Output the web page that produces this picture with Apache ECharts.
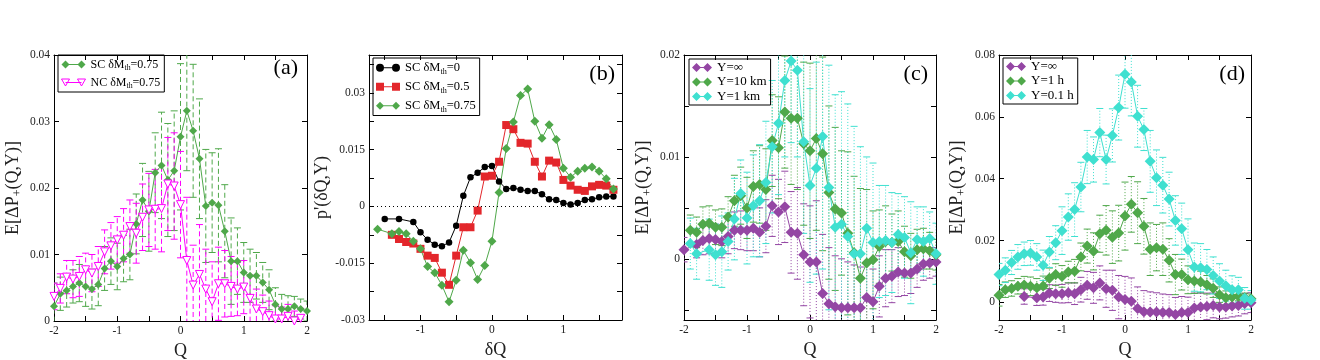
<!DOCTYPE html>
<html>
<head>
<meta charset="utf-8">
<script src="https://cdn.jsdelivr.net/npm/echarts@6/dist/echarts.min.js"></script>
<style>
html,body{margin:0;background:#fff}
#main{width:1320px;height:360px}
</style>
</head>
<body>
<div id="main"></div>
<script>
// ---- data ----
const qA = [-2,-1.9,-1.8,-1.7,-1.6,-1.5,-1.4,-1.3,-1.2,-1.1,-1,-0.9,-0.8,-0.7,-0.6,-0.5,-0.4,-0.3,-0.2,-0.1,0,0.1,0.2,0.3,0.4,0.5,0.6,0.7,0.8,0.9,1,1.1,1.2,1.3,1.4,1.5,1.6,1.7,1.8,1.9,2]

// (a)
const scA = [0.0022,0.0041,0.0046,0.0052,0.0057,0.0052,0.0048,0.0055,0.0079,0.009,0.0082,0.0094,0.0100,0.0146,0.0182,0.0165,0.0223,0.0234,0.0212,0.0226,0.0277,0.0316,0.0286,0.0244,0.0173,0.0178,0.0174,0.0135,0.009,0.009,0.0073,0.0068,0.0068,0.0058,0.0047,0.0025,0.0018,0.0018,0.0022,0.0018,0.0015]
const scAErr = [0.0035,0.0025,0.0025,0.0025,0.0028,0.003,0.003,0.0032,0.0033,0.0035,0.0035,0.0035,0.0038,0.0045,0.0055,0.006,0.006,0.008,0.0085,0.009,0.011,0.009,0.01,0.009,0.0085,0.0075,0.0085,0.007,0.0065,0.005,0.0045,0.004,0.0035,0.003,0.003,0.0025,0.0022,0.002,0.0015,0.0015,0.0015]
const qNC = qA.slice(0, 40)
const ncA = [0.0037,0.0049,0.0066,0.0063,0.0067,0.0077,0.0072,0.0082,0.0104,0.0113,0.0122,0.0129,0.0142,0.0132,0.0156,0.0167,0.0168,0.0169,0.0206,0.0203,0.0175,0.0091,0.0054,0.007,0.0048,0.0029,0.0056,0.0056,0.0052,0.0048,0.0051,0.0034,0.0018,0.0014,0.0008,0.0003,0.0003,0.0007,0,0.0004]
const ncAErr = [0.002,0.0022,0.0025,0.0028,0.003,0.0025,0.0028,0.003,0.0033,0.0035,0.0035,0.004,0.004,0.0045,0.005,0.0055,0.006,0.0065,0.007,0.008,0.008,0.0095,0.006,0.0075,0.006,0.006,0.0055,0.005,0.0045,0.004,0.004,0.0035,0.003,0.0025,0.0022,0.002,0.0018,0.0018,0.0015,0.0015]

// (b)
const qB0 = [-1.5,-1.3,-1.1].concat(qA.slice(10, 38))
const scB0 = [-0.0033,-0.0033,-0.0041,-0.0068,-0.0088,-0.0101,-0.0105,-0.0095,-0.0051,0.0028,0.0077,0.0089,0.0104,0.0107,0.0066,0.0046,0.0049,0.0044,0.0041,0.0041,0.0032,0.0019,0.0017,0.0009,0.0005,0.0009,0.0017,0.0019,0.0024,0.0026,0.0026]
const qB1 = qA.slice(6, 38)
const scB1 = [-0.0075,-0.0086,-0.0094,-0.0098,-0.0112,-0.013,-0.0136,-0.0175,-0.0207,-0.013,-0.0055,-0.0055,-0.0011,0.0079,0.0081,0.0118,0.0215,0.0204,0.0168,0.0166,0.0118,0.0079,0.0121,0.0116,0.007,0.0055,0.0044,0.0041,0.0053,0.0057,0.0055,0.0044]
const qB2 = [-1.6].concat(qA.slice(6, 38))
const scB2 = [-0.006,-0.0072,-0.0066,-0.0072,-0.0092,-0.0112,-0.0159,-0.0175,-0.0208,-0.0252,-0.0195,-0.0116,-0.0149,-0.0193,-0.0156,-0.0092,0.0037,0.0153,0.0223,0.0293,0.031,0.0225,0.018,0.0216,0.0177,0.0101,0.0077,0.0093,0.0101,0.0104,0.0093,0.0073,0.0046]

// (c)
const qC0 = [-2].concat(qA.slice(2))
const infC = [0.0009,0.0014,0.0018,0.002,0.0019,0.0017,0.0022,0.0028,0.0028,0.0028,0.003,0.0026,0.0032,0.0052,0.0046,0.0051,0.0026,0.0025,0.0004,-0.0003,-0.0003,-0.0034,-0.0044,-0.0047,-0.0048,-0.0048,-0.0048,-0.0048,-0.0038,-0.0042,-0.0027,-0.0019,-0.0017,-0.0013,-0.0014,-0.0014,-0.001,-0.0005,-0.0004,-0.0003]
const infCErr = [0.0012,0.0013,0.0014,0.0015,0.0015,0.0016,0.0017,0.0018,0.0019,0.002,0.0022,0.0024,0.0026,0.003,0.0032,0.0035,0.004,0.0045,0.005,0.0055,0.006,0.0058,0.0055,0.005,0.0048,0.0045,0.0042,0.004,0.0035,0.0032,0.003,0.0028,0.0026,0.0024,0.0022,0.002,0.0018,0.0016,0.0015,0.0014]
const qC1 = qA.slice(1)
const km10C = [0.0028,0.0026,0.0034,0.0035,0.0031,0.0031,0.0041,0.0057,0.0062,0.005,0.0071,0.0073,0.0068,0.0116,0.0109,0.0144,0.0138,0.0138,0.0113,0.0106,0.0118,0.0103,0.0065,0.0049,0.0045,0.0025,0.0006,-0.0019,-0.0004,-0.0001,0.0012,0.0017,0.0016,0.0017,0.0007,0.0003,0.0009,0.001,0.0008,0.0004]
const km10CErr = [0.0015,0.0015,0.0017,0.0017,0.0017,0.0018,0.002,0.0025,0.0028,0.003,0.0035,0.0038,0.004,0.0045,0.005,0.0055,0.0065,0.007,0.008,0.0086,0.009,0.0095,0.0085,0.008,0.0061,0.008,0.0075,0.0088,0.0072,0.0048,0.0036,0.0035,0.0028,0.003,0.0025,0.0022,0.002,0.002,0.0018,0.0015]
const qC2 = qA.slice(1, 3).concat(qA.slice(4))
const km1C = [0.0015,0.0005,0.0009,0.0004,0.0007,0.0017,0.0039,0.0064,0.004,0.0052,0.0057,0.0075,0.011,0.0133,0.0175,0.0194,0.0185,0.0115,0.0072,0.0089,0.012,0.007,0.0031,0.0034,0.0022,0.0005,0.0005,0.003,0.0016,0.0017,0.0018,0.0016,0.0024,0.0021,0.0006,0.0019,0.0017,0.002,0.0005]
const km1CErr = [0.0025,0.0025,0.003,0.003,0.0035,0.0028,0.004,0.0033,0.0045,0.005,0.0055,0.006,0.0065,0.007,0.0075,0.008,0.0085,0.009,0.0095,0.0104,0.013,0.012,0.013,0.013,0.013,0.0125,0.0105,0.007,0.0078,0.0055,0.0054,0.0049,0.004,0.004,0.005,0.0032,0.0034,0.0026,0.003]

// (d)
const qD0 = [-1.6].concat(qA.slice(6))
const infD = [0.0019,0.0015,0.0017,0.003,0.0028,0.0028,0.0031,0.0028,0.0041,0.0055,0.0047,0.0063,0.0044,0.0039,0.0017,0.0009,0.0004,-0.002,-0.003,-0.0031,-0.0031,-0.0033,-0.0033,-0.0039,-0.0033,-0.0033,-0.0018,-0.0015,-0.0013,-0.001,-0.0015,-0.0015,-0.0012,-0.001,-0.0004,-0.0001]
const infDErr = [0.0025,0.0025,0.0026,0.0027,0.0028,0.003,0.0032,0.0035,0.004,0.0045,0.005,0.0055,0.006,0.0065,0.007,0.0075,0.0075,0.007,0.0068,0.0065,0.0062,0.006,0.0058,0.0055,0.0052,0.005,0.0048,0.0045,0.0043,0.004,0.0038,0.0036,0.0035,0.0034,0.0033,0.0032]
const h1D = [0.0023,0.0041,0.0045,0.0052,0.0056,0.0052,0.0047,0.0053,0.0078,0.009,0.0084,0.0098,0.0101,0.0147,0.0182,0.0165,0.0222,0.0233,0.0211,0.0224,0.0279,0.0317,0.029,0.0246,0.0172,0.0177,0.0172,0.0136,0.009,0.009,0.0073,0.0069,0.0066,0.0057,0.0046,0.0025,0.0015,0.0017,0.002,0.0015,0.0012]
const h1DErr = [0.0035,0.0025,0.0025,0.0025,0.0028,0.003,0.003,0.0032,0.0033,0.0035,0.0035,0.0035,0.0038,0.0045,0.0055,0.006,0.006,0.008,0.0085,0.009,0.011,0.009,0.01,0.009,0.0085,0.0075,0.0085,0.007,0.0065,0.005,0.0045,0.004,0.0035,0.003,0.003,0.0025,0.0022,0.002,0.0015,0.0015,0.0015]
const h01D = [0.009,0.0104,0.0129,0.0147,0.0157,0.016,0.0147,0.012,0.0163,0.0193,0.0232,0.0276,0.03,0.0373,0.047,0.0462,0.0549,0.0462,0.054,0.063,0.0738,0.0713,0.0602,0.0559,0.0456,0.0403,0.0379,0.0334,0.0265,0.0238,0.017,0.0114,0.0112,0.0106,0.0087,0.0069,0.0054,0.0041,0.0041,0.0013,0.0008]
const h01DErr = [0.0036,0.004,0.0039,0.004,0.0038,0.004,0.0043,0.0049,0.005,0.0055,0.0077,0.0075,0.0087,0.008,0.0086,0.0073,0.0078,0.0079,0.0086,0.0105,0.011,0.011,0.01,0.0068,0.01,0.009,0.009,0.0087,0.008,0.0083,0.01,0.0078,0.0078,0.0065,0.006,0.0056,0.005,0.0045,0.004,0.0035,0.003]

// tick labels / tick positions
const qLabels = [-2,-1,0,1,2]
const qTicks = [-2,-1.5,-1,-0.5,0,0.5,1,1.5,2]
const dqLabels = [-1,0,1]
const dqTicks = [-1.5,-1,-0.5,0,0.5,1,1.5]
const yLabelsA = [0,0.01,0.02,0.03,0.04]
const yLabelsB = [-0.03,-0.015,0,0.015,0.03]
const yTicksB = [-0.03,-0.0225,-0.015,-0.0075,0,0.0075,0.015,0.0225,0.03,0.0375]
const yLabelsC = [0,0.01,0.02]
const yTicksC = [-0.005,0,0.005,0.01,0.015,0.02]
const yLabelsD = [0,0.02,0.04,0.06,0.08]

const SERIF = '"Liberation Serif", "DejaVu Serif", serif'
const green = '#4fa84a', magenta = '#ff00ff', red = '#e3262b', purple = '#9446a4', cyan = '#3fe0d0'

const grids = [
    {left: 54, top: 55, width: 253, height: 266},
    {left: 369, top: 55, width: 253, height: 265},
    {left: 684, top: 55, width: 252, height: 265},
    {left: 999, top: 55, width: 252, height: 265}
]

function xAxisPair(g, min, max, labels, ticks, name){
    const base = {
        type: 'value', gridIndex: g, min: min, max: max,
        splitLine: {show: false},
        axisLine: {onZero: false, lineStyle: {color: '#000', width: 1}}
    }
    return [
        Object.assign({}, base, {
            position: 'bottom',
            axisTick: {inside: true, length: 5, customValues: ticks, lineStyle: {color: '#000'}},
            axisLabel: {customValues: labels, fontFamily: SERIF, fontSize: 11.5, color: '#222', margin: 4},
            name: name, nameLocation: 'middle', nameGap: 18,
            nameTextStyle: {fontFamily: SERIF, fontSize: 18, color: '#222'}
        }),
        Object.assign({}, base, {
            position: 'top',
            axisTick: {inside: true, length: 5, customValues: ticks, lineStyle: {color: '#000'}},
            axisLabel: {show: false}
        })
    ]
}

function yAxisPair(g, min, max, labels, ticks, name, gap){
    const base = {
        type: 'value', gridIndex: g, min: min, max: max,
        splitLine: {show: false},
        axisLine: {onZero: false, lineStyle: {color: '#000', width: 1}}
    }
    return [
        Object.assign({}, base, {
            position: 'left',
            axisTick: {inside: true, length: 5, customValues: ticks, lineStyle: {color: '#000'}},
            axisLabel: {customValues: labels, fontFamily: SERIF, fontSize: 11.5, color: '#222', margin: 4},
            name: name, nameLocation: 'middle', nameGap: gap,
            nameTextStyle: {
                fontFamily: SERIF, fontSize: 18, color: '#222',
                rich: {
                    n: {fontFamily: SERIF, fontSize: 18, color: '#222', lineHeight: 22},
                    s: {fontFamily: SERIF, fontSize: 12, color: '#222', lineHeight: 22, verticalAlign: 'bottom'}
                }
            }
        }),
        Object.assign({}, base, {
            position: 'right',
            axisTick: {inside: true, length: 5, customValues: ticks, lineStyle: {color: '#000'}},
            axisLabel: {show: false}
        })
    ]
}

function line(name, g, xs, ys, color, symbol, size, extra){
    return Object.assign({
        name: name, type: 'line', xAxisIndex: 2 * g, yAxisIndex: 2 * g,
        data: xs.map((x, i) => [x, ys[i]]),
        symbol: symbol, symbolSize: size,
        lineStyle: {color: color, width: 1},
        itemStyle: {color: color},
        z: 3
    }, extra || {})
}

function errBars(g, xs, ys, es, color, dash, cap){
    return {
        type: 'custom', xAxisIndex: 2 * g, yAxisIndex: 2 * g,
        clip: true, silent: true, z: 2,
        data: xs.map((x, i) => [x, ys[i] - es[i], ys[i] + es[i]]),
        encode: {x: 0, y: [1, 2]},
        renderItem: function(params, api){
            const lo = api.coord([api.value(0), api.value(1)])
            const hi = api.coord([api.value(0), api.value(2)])
            const solid = {stroke: color, lineWidth: 1}
            return {type: 'group', children: [
                {type: 'line', shape: {x1: lo[0], y1: lo[1], x2: hi[0], y2: hi[1]}, style: {stroke: color, lineWidth: 1, lineDash: dash}},
                {type: 'line', shape: {x1: lo[0] - cap, y1: lo[1], x2: lo[0] + cap, y2: lo[1]}, style: solid},
                {type: 'line', shape: {x1: hi[0] - cap, y1: hi[1], x2: hi[0] + cap, y2: hi[1]}, style: solid}
            ]}
        }
    }
}

// legend icons: marker - line - marker
const ICON_DIA = 'path://M0,4L4,0L8,4L4,8Z M4,3.5H20V4.5H4Z M16,4L20,0L24,4L20,8Z'
const ICON_TRI = 'path://M0,0H8L4,7Z M4,3.5H20 M16,0H24L20,7Z'
const ICON_SQ = 'path://M0,0H8V8H0Z M4,3.5H20V4.5H4Z M16,0H24V8H16Z'
const ICON_CIR = 'path://M0,4A4,4 0 1,1 8,4A4,4 0 1,1 0,4Z M4,3.5H20V4.5H4Z M16,4A4,4 0 1,1 24,4A4,4 0 1,1 16,4Z'
const ICON_DIA2 = 'path://M0,4.5L4.5,0L9,4.5L4.5,9Z M4.5,4H15.5V5H4.5Z M11,4.5L15.5,0L20,4.5L15.5,9Z'

const legendText = {
    'a:SC': '{n|SC δM}{s|th}{n|=0.75}',
    'a:NC': '{n|NC δM}{s|th}{n|=0.75}',
    'b:0': '{n|SC δM}{s|th}{n|=0}',
    'b:0.5': '{n|SC δM}{s|th}{n|=0.5}',
    'b:0.75': '{n|SC δM}{s|th}{n|=0.75}',
    'c:inf': 'Y=∞', 'c:10': 'Y=10 km', 'c:1': 'Y=1 km',
    'd:inf': 'Y=∞', 'd:1h': 'Y=1 h', 'd:0.1h': 'Y=0.1 h'
}

function legendBox(left, top, items, size, lh, gap, iw, ih){
    return {
        orient: 'vertical', left: left, top: top,
        selectedMode: false,
        borderColor: '#000', borderWidth: 1, padding: [2, 4, 2, 3],
        itemGap: gap, itemWidth: iw, itemHeight: ih,
        data: items,
        formatter: n => legendText[n],
        textStyle: {
            fontFamily: SERIF, fontSize: size, color: '#000', lineHeight: lh,
            rich: {
                n: {fontFamily: SERIF, fontSize: size, color: '#000', lineHeight: lh},
                s: {fontFamily: SERIF, fontSize: size * 0.65, color: '#000', lineHeight: lh, verticalAlign: 'bottom'}
            }
        }
    }
}

const yName = '{n|E[ΔP}{s|+}{n|(Q,Y)]}'

const option = {
    animation: false,
    backgroundColor: '#fff',
    grid: grids.map(g => Object.assign({outerBoundsMode: 'none'}, g)),
    xAxis: [].concat(
        xAxisPair(0, -2, 2, qLabels, qTicks, 'Q'),
        xAxisPair(1, -1.72, 1.82, dqLabels, dqTicks, 'δQ'),
        xAxisPair(2, -2, 2, qLabels, qTicks, 'Q'),
        xAxisPair(3, -2, 2, qLabels, qTicks, 'Q')
    ),
    yAxis: [].concat(
        yAxisPair(0, 0, 0.04, yLabelsA, yLabelsA, yName, 30),
        yAxisPair(1, -0.03, 0.04, yLabelsB, yTicksB, "{n|p'(δQ,Y)}", 21),
        yAxisPair(2, -0.006, 0.02, yLabelsC, yTicksC, yName, 30),
        yAxisPair(3, -0.0057, 0.08, yLabelsD, yLabelsD, yName, 31)
    ),
    legend: [
        legendBox(58, 55, [
            {name: 'a:SC', icon: ICON_DIA, itemStyle: {color: green}},
            {name: 'a:NC', icon: ICON_TRI, itemStyle: {color: '#fff', borderColor: magenta, borderWidth: 1}}
        ], 12, 15, 3, 24, 8),
        legendBox(373, 58, [
            {name: 'b:0', icon: ICON_CIR, itemStyle: {color: '#000'}},
            {name: 'b:0.5', icon: ICON_SQ, itemStyle: {color: red}},
            {name: 'b:0.75', icon: ICON_DIA, itemStyle: {color: green}}
        ], 12.5, 15.5, 3.5, 24, 8),
        legendBox(689, 59, [
            {name: 'c:inf', icon: ICON_DIA2, itemStyle: {color: purple}},
            {name: 'c:10', icon: ICON_DIA2, itemStyle: {color: green}},
            {name: 'c:1', icon: ICON_DIA2, itemStyle: {color: cyan}}
        ], 13, 12, 1.5, 20, 9),
        legendBox(1003, 58, [
            {name: 'd:inf', icon: ICON_DIA2, itemStyle: {color: purple}},
            {name: 'd:1h', icon: ICON_DIA2, itemStyle: {color: green}},
            {name: 'd:0.1h', icon: ICON_DIA2, itemStyle: {color: cyan}}
        ], 13, 12, 1.5, 20, 9)
    ],
    graphic: [
        {type: 'text', x: 298, y: 68, style: {text: '(a)', font: '22px ' + SERIF, fill: '#000', textAlign: 'right', textVerticalAlign: 'middle'}},
        {type: 'text', x: 615, y: 74, style: {text: '(b)', font: '22px ' + SERIF, fill: '#000', textAlign: 'right', textVerticalAlign: 'middle'}},
        {type: 'text', x: 928, y: 74, style: {text: '(c)', font: '22px ' + SERIF, fill: '#000', textAlign: 'right', textVerticalAlign: 'middle'}},
        {type: 'text', x: 1245, y: 74, style: {text: '(d)', font: '22px ' + SERIF, fill: '#000', textAlign: 'right', textVerticalAlign: 'middle'}}
    ],
    series: [
        // (a)
        errBars(0, qA, scA, scAErr, green, [5, 3], 3.5),
        errBars(0, qNC, ncA, ncAErr, magenta, [5, 3], 3.5),
        line('a:SC', 0, qA, scA, green, 'diamond', 8),
        line('a:NC', 0, qNC, ncA, magenta, 'triangle', 8, {
            symbolRotate: 180,
            itemStyle: {color: '#fff', borderColor: magenta, borderWidth: 1}
        }),
        // (b)
        line('b:0', 1, qB0, scB0, '#000', 'circle', 6.5, {
            markLine: {
                silent: true, symbol: 'none', label: {show: false},
                lineStyle: {color: '#000', width: 1, type: [1, 3]},
                data: [{yAxis: 0}]
            }
        }),
        line('b:0.5', 1, qB1, scB1, red, 'rect', 8),
        line('b:0.75', 1, qB2, scB2, green, 'diamond', 9),
        // (c)
        errBars(2, qC0, infC, infCErr, purple, [1, 2], 3.5),
        errBars(2, qC1, km10C, km10CErr, green, [1, 2], 3.5),
        errBars(2, qC2, km1C, km1CErr, cyan, [1, 2], 3.5),
        line('c:inf', 2, qC0, infC, purple, 'diamond', 11),
        line('c:10', 2, qC1, km10C, green, 'diamond', 11),
        line('c:1', 2, qC2, km1C, cyan, 'diamond', 11),
        // (d)
        errBars(3, qD0, infD, infDErr, purple, [1, 2], 3.5),
        errBars(3, qA, h1D, h1DErr, green, [1, 2], 3.5),
        errBars(3, qA, h01D, h01DErr, cyan, [1, 2], 3.5),
        line('d:inf', 3, qD0, infD, purple, 'diamond', 11),
        line('d:1h', 3, qA, h1D, green, 'diamond', 11),
        line('d:0.1h', 3, qA, h01D, cyan, 'diamond', 11)
    ]
}

const chart = echarts.init(document.getElementById('main'))
chart.setOption(option)
</script>
</body>
</html>
